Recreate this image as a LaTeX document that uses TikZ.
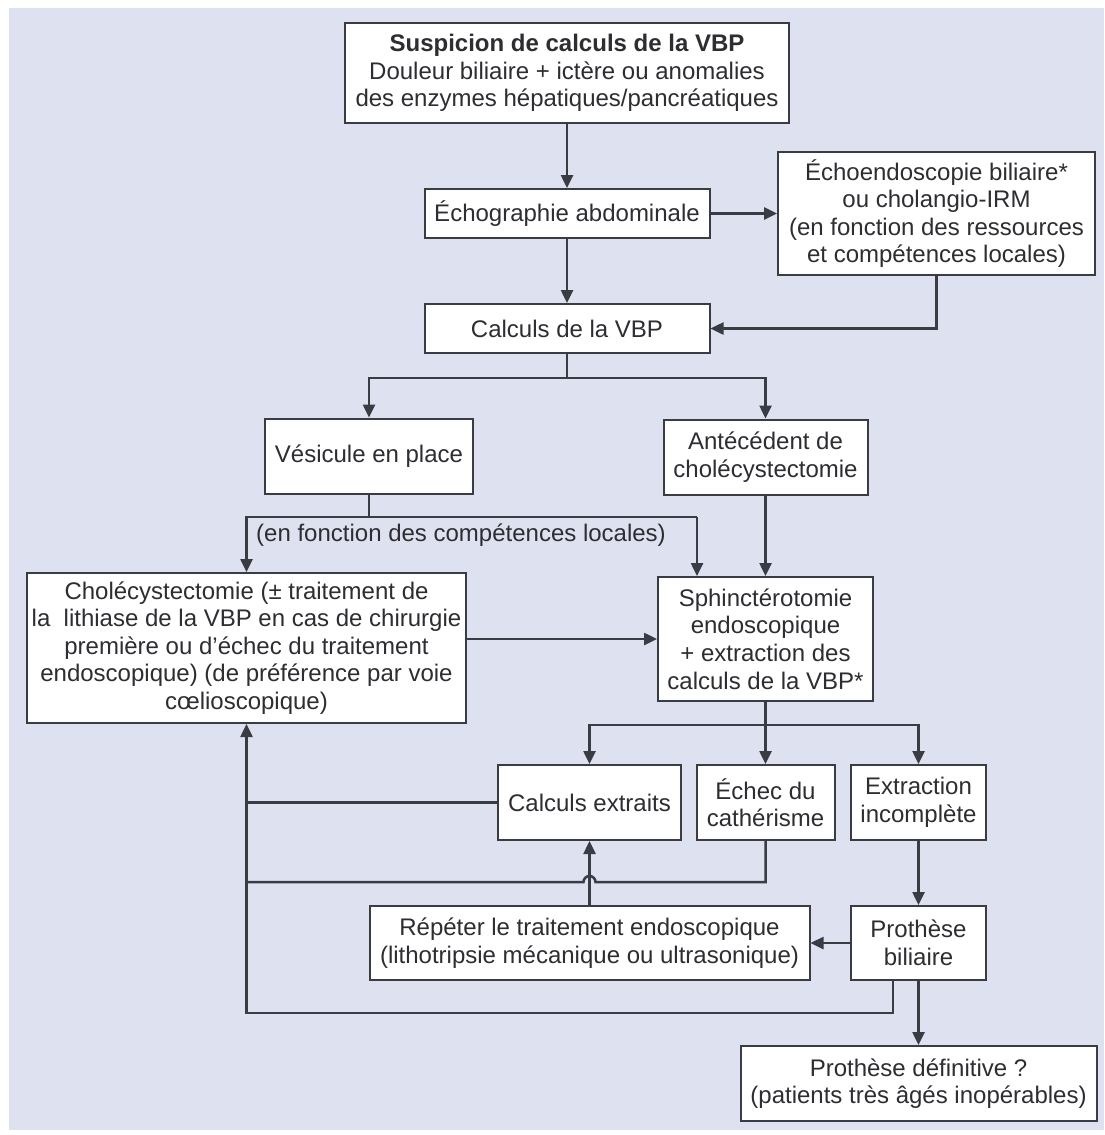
\documentclass[tikz,border=0pt]{standalone}
\usepackage{fontspec}
\setmainfont{Liberation Sans}
\usetikzlibrary{arrows.meta}
\definecolor{bgc}{RGB}{222,226,240}
\definecolor{linec}{RGB}{58,60,68}
\definecolor{textc}{RGB}{45,45,50}
\begin{document}
\begin{tikzpicture}[x=0.5pt,y=-0.5pt,
  box/.style={draw=linec, line width=1pt, fill=white, align=center, inner sep=0pt,
    text=textc, font=\fontsize{12}{13.8}\selectfont},
  lbl/.style={align=center, inner sep=0pt, text=textc, font=\fontsize{12}{13.8}\selectfont},
  ln/.style={draw=linec, line width=1.25pt},
  arr/.style={draw=linec, line width=1.25pt, -{Triangle[length=6.5pt,width=6pt]}}]
\useasboundingbox (0,0) rectangle (1104,1135);
\fill[bgc] (9,8) rectangle (1104,1130);

\node[box, minimum width=222pt, minimum height=50pt] (top) at (567,73)
  {{\bfseries Suspicion de calculs de la VBP}\\Douleur biliaire + ictère ou anomalies\\des enzymes hépatiques/pancréatiques};
\node[box, minimum width=142.5pt, minimum height=24.5pt] (echo) at (567,213.5) {Échographie abdominale};
\node[box, minimum width=158.5pt, minimum height=61.5pt] (echoendo) at (936.5,213.5)
  {Échoendoscopie biliaire*\\ou cholangio-IRM\\(en fonction des ressources\\et compétences locales)};
\node[box, minimum width=142.5pt, minimum height=24.5pt] (calc) at (567,328.5) {Calculs de la VBP};
\node[box, minimum width=104pt, minimum height=37.5pt] (vesicule) at (369,456) {Vésicule en place};
\node[box, minimum width=102pt, minimum height=37.5pt] (antec) at (765.5,457) {Antécédent de\\cholécystectomie};
\node[box, minimum width=219.5pt, minimum height=75pt] (chole) at (246.5,648)
  {Cholécystectomie (± traitement de\\la \ lithiase de la VBP en cas de chirurgie\\première ou d'échec du traitement\\endoscopique) (de préférence par voie\\cœlioscopique)};
\node[box, minimum width=107.5pt, minimum height=62pt] (sphinct) at (765.5,639)
  {Sphinctérotomie\\endoscopique\\+ extraction des\\calculs de la VBP*};
\node[box, minimum width=91.5pt, minimum height=37.5pt] (calcext) at (589.5,802.5) {Calculs extraits};
\node[box, minimum width=69pt, minimum height=37.5pt] (echec) at (765.5,802.5) {Échec du\\cathérisme};
\node[box, minimum width=67.5pt, minimum height=37.5pt] (extrac) at (918.5,802.5) {Extraction\\incomplète};
\node[box, minimum width=220pt, minimum height=37pt] (repeter) at (589.5,943)
  {Répéter le traitement endoscopique\\(lithotripsie mécanique ou ultrasonique)};
\node[box, minimum width=67.5pt, minimum height=37pt] (prothese) at (918.5,943) {Prothèse\\biliaire};
\node[box, minimum width=178pt, minimum height=37.5pt] (definitive) at (918.5,1083.5)
  {Prothèse définitive ?\\(patients très âgés inopérables)};
\node[lbl] (cond) at (461,535) {(en fonction des compétences locales)};

% connectors
\draw[arr] (top) -- (echo);
\draw[arr] (echo) -- (echoendo);
\draw[arr] (echo) -- (calc);
\draw[arr] (echoendo.south) |- (calc.east);

\coordinate (s1) at (567,378);
\draw[ln] (calc.south) -- (s1);
\draw[arr] (s1) -| (vesicule.north);
\draw[arr] (s1) -| (antec.north);

\coordinate (s2) at (369,517);
\coordinate (s2r) at (697,517);
\draw[ln] (vesicule.south) -- (s2) -- (s2r);
\draw[arr] (s2) -| (chole.north);
\draw[arr] (s2r) -- (s2r |- sphinct.north);
\draw[arr] (antec.south) -- (antec.south |- sphinct.north);
\draw[arr] (chole.east |- sphinct.west) -- (sphinct.west);

\coordinate (s3) at (765.5,725);
\draw[ln] (sphinct.south) -- (s3);
\draw[arr] (s3) -| (calcext.north);
\draw[arr] (s3) -- (s3 |- echec.north);
\draw[arr] (s3) -| (extrac.north);

\draw[ln] (calcext.west) -- (calcext.west -| chole.south);
\coordinate (hopR) at (595.5,882);
\draw[ln] (echec.south) |- (hopR) arc[start angle=0, end angle=180, radius=3pt] -- (chole.south |- hopR);
\draw[arr] (repeter.north) -- (repeter.north |- calcext.south);
\draw[arr] (extrac) -- (prothese);
\draw[arr] (prothese.west) -- (repeter.east);

\coordinate (pb) at (893,980);
\coordinate (lowc) at (246.5,1013);
\draw[arr] (pb) |- (lowc) -- (chole.south);
\draw[arr] (prothese.south) -- (prothese.south |- definitive.north);
\end{tikzpicture}
\end{document}
